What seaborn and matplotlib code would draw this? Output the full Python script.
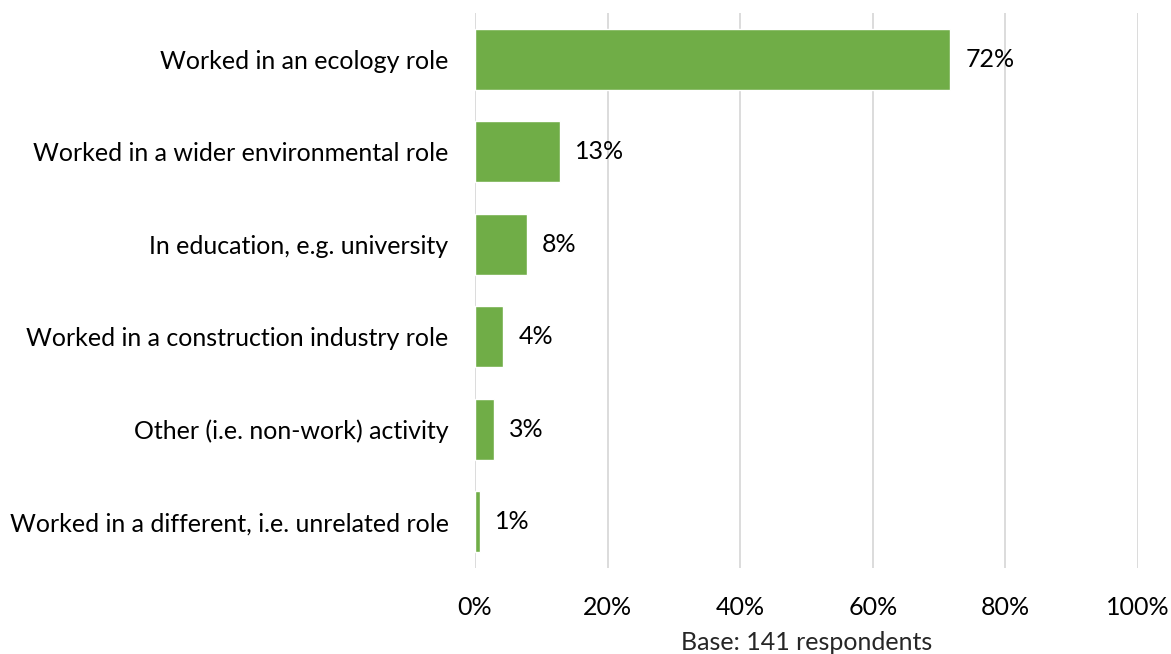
import matplotlib
matplotlib.use("Agg")
import matplotlib.pyplot as plt
import seaborn as sns
import pandas as pd

categories = [
    "Worked in an ecology role",
    "Worked in a wider environmental role",
    "In education, e.g. university",
    "Worked in a construction industry role",
    "Other (i.e. non-work) activity",
    "Worked in a different, i.e. unrelated role",
]
respondents = [101, 18, 11, 6, 4, 1]
base = 141
x_ticks = [0, 20, 40, 60, 80, 100]

share = [100 * n / base for n in respondents]
df = pd.DataFrame({"category": categories, "share": share})

sns.set_theme(style="white")
plt.rcParams["font.family"] = ["Lato", "DejaVu Sans"]

FS = 18

fig = plt.figure(figsize=(11.71, 6.54), dpi=100)
ax = fig.add_axes([0.4056, 0.1315, 0.5662, 0.8486])

sns.barplot(data=df, x="share", y="category", orient="h", color="#70AD47",
            saturation=1, width=0.66, ax=ax, zorder=3)

ax.set_xlim(0, 100)
ax.set_ylim(len(categories) - 0.5, -0.5)
ax.set_xticks(x_ticks)
ax.set_xticklabels([f"{t}%" for t in x_ticks])
ax.xaxis.grid(True, color="#d9d9d9", linewidth=1.3, zorder=0)
ax.yaxis.grid(False)
for s in ax.spines.values():
    s.set_visible(False)
ax.tick_params(axis="both", length=0, labelsize=FS, colors="#000000")
ax.tick_params(axis="x", pad=20)
ax.tick_params(axis="y", pad=19)
ax.set_ylabel("")
ax.set_xlabel("Base: 141 respondents", fontsize=FS, labelpad=9)

for i, v in enumerate(share):
    ax.annotate(f"{round(v):.0f}%", xy=(v, i), xytext=(11, 0),
                textcoords="offset points", ha="left", va="center",
                fontsize=FS, color="#000000")

fig.savefig("out.png", dpi=100)
